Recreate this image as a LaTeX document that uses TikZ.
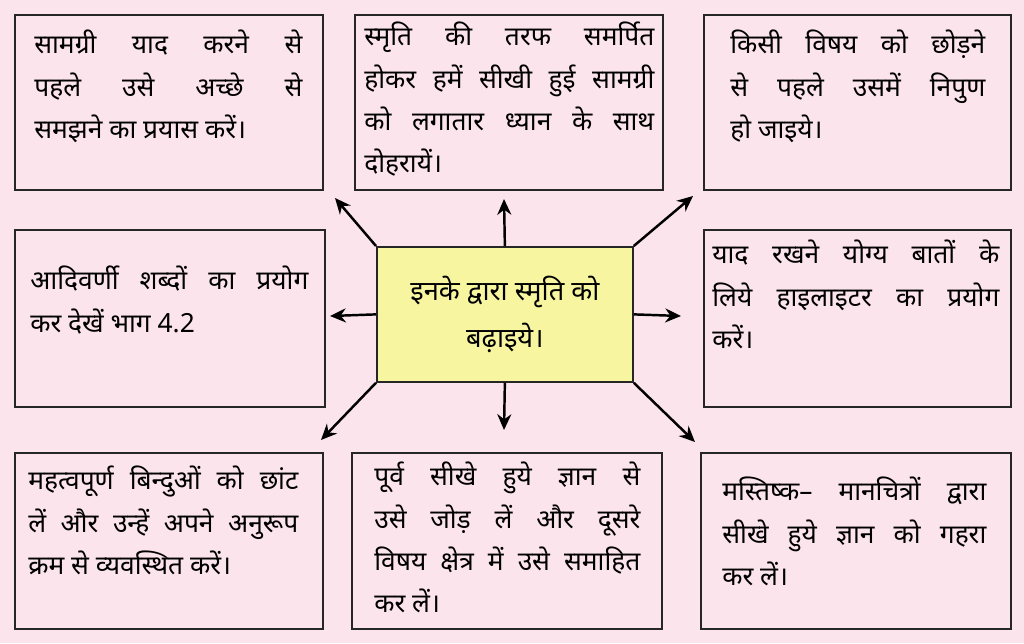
\documentclass[tikz,border=0pt]{standalone}
\usepackage{fontspec}
\newfontfamily\hindi[Script=Devanagari]{Noto Sans}
\definecolor{bg}{HTML}{FBE4EC}
\definecolor{yel}{HTML}{F8F5A0}
\usetikzlibrary{arrows.meta}
\begin{document}
\begin{tikzpicture}[x=0.02cm,y=-0.02cm,
 box/.style={draw=black!85,line width=1pt,fill=bg,minimum width=#1*0.02cm,minimum height=175*0.02cm,anchor=north west},
 txt/.style={anchor=north west,text width=#1*0.02cm,align=justify,inner sep=0pt,font=\hindi\fontsize{15}{24}\selectfont},
 arr/.style={-{Stealth[length=9pt,width=8pt]},line width=1.4pt}]
\fill[bg] (0,0) rectangle (1024,643);
\useasboundingbox (0,0) rectangle (1024,643);
\node[box=308] (tl) at (14,14) {};
\node[box=308] (tm) at (354,14) {};
\node[box=307] (tr) at (703,14) {};
\node[box=310,minimum height=177*0.02cm] (ml) at (14,229) {};
\node[box=307,minimum height=177*0.02cm] (mr) at (703,229) {};
\node[box=308,minimum height=176*0.02cm] (bl) at (14,452) {};
\node[box=310,minimum height=176*0.02cm] (bm) at (351,452) {};
\node[box=310,minimum height=176*0.02cm] (br) at (700,452) {};
\node[draw=black!85,line width=1pt,fill=yel,minimum width=256*0.02cm,minimum height=135*0.02cm,anchor=north west,align=center,font=\hindi\fontsize{15.5}{27}\selectfont] (c) at (376,246) {इनके द्वारा स्मृति को\\बढ़ाइये।};
\node[txt=268] at (34,30) {सामग्री याद करने से\linebreak पहले उसे अच्छे से\linebreak समझने का प्रयास करें।};
\node[txt=290] at (364,22) {स्मृति की तरफ समर्पित\linebreak होकर हमें सीखी हुई सामग्री\linebreak को लगातार ध्यान के साथ\linebreak दोहरायें।};
\node[txt=255] at (730,30) {किसी विषय को छोड़ने\linebreak से पहले उसमें निपुण\linebreak हो जाइये।};
\node[txt=278] at (30,266) {आदिवर्णी शब्दों का प्रयोग\linebreak कर देखें भाग 4.2};
\node[txt=287] at (712,240) {याद रखने योग्य बातों के\linebreak लिये हाइलाइटर का प्रयोग\linebreak करें।};
\node[txt=270] at (28,466) {महत्वपूर्ण बिन्दुओं को छांट\linebreak लें और उन्हें अपने अनुरूप\linebreak क्रम से व्यवस्थित करें।};
\node[txt=266] at (374,462) {पूर्व सीखे हुये ज्ञान से\linebreak उसे जोड़ लें और दूसरे\linebreak विषय क्षेत्र में उसे समाहित\linebreak कर लें।};
\node[txt=264] at (722,477) {मस्तिष्क– मानचित्रों द्वारा\linebreak सीखे हुये ज्ञान को गहरा\linebreak कर लें।};
\coordinate (a1) at (335,198); \coordinate (a2) at (504,199); \coordinate (a3) at (693,196);
\coordinate (a4) at (330,316); \coordinate (a5) at (681,316);
\coordinate (a6) at (321,440); \coordinate (a7) at (504,430); \coordinate (a8) at (695,442);
\draw[arr] (c.north west) -- (a1);
\draw[arr] (c.north) -- (a2);
\draw[arr] (c.north east) -- (a3);
\draw[arr] (c.west) -- (a4);
\draw[arr] (c.east) -- (a5);
\draw[arr] (c.south west) -- (a6);
\draw[arr] (c.south) -- (a7);
\draw[arr] (c.south east) -- (a8);
\end{tikzpicture}
\end{document}
